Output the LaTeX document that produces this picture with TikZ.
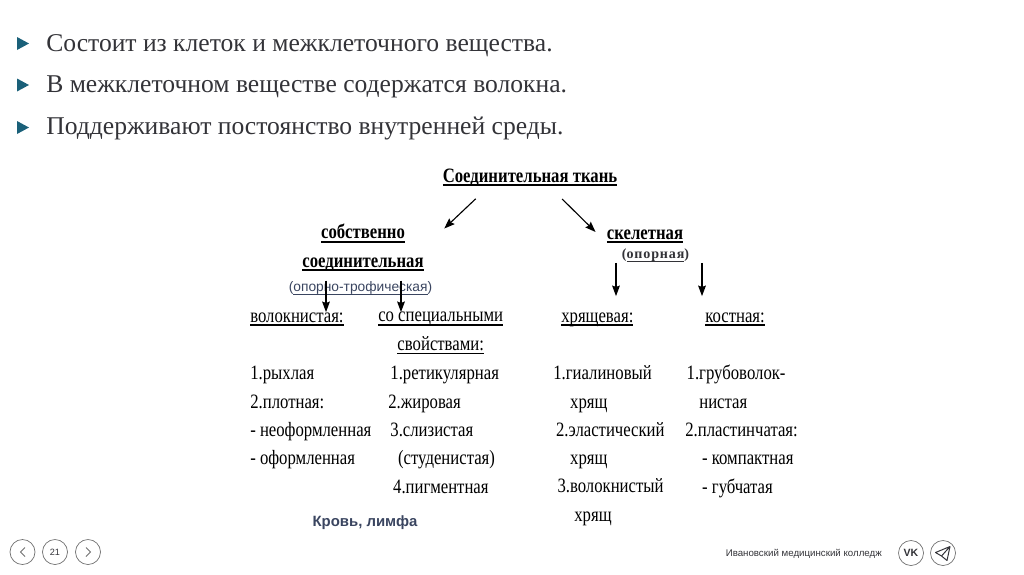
\documentclass[tikz,border=0pt]{standalone}
\usepackage{fontspec}
\setmainfont{Liberation Serif}
\setsansfont{Liberation Sans}
\newfontfamily\narrowserif[FakeStretch=0.82]{Liberation Serif}
\usetikzlibrary{arrows.meta}
\definecolor{tealbul}{HTML}{1A6079}
\definecolor{slidetext}{HTML}{333338}
\definecolor{navytext}{HTML}{3A4560}
\definecolor{ringgray}{HTML}{707070}
\newcommand{\lined}[2][0.9pt]{\setbox0=\hbox{#2}\rlap{\rule[-2.6pt]{\wd0}{#1}}\box0}
\tikzset{
  bullettext/.style={anchor=base west, inner sep=0pt, text=slidetext, font=\fontsize{18.2}{22}\selectfont},
  headtext/.style={anchor=base, inner sep=0pt, align=center, font=\narrowserif\bfseries\fontsize{14.5}{20.3}\selectfont},
  subtext/.style={anchor=base west, inner sep=0pt, align=left, font=\narrowserif\fontsize{14.5}{20.3}\selectfont},
  listtext/.style={anchor=base west, inner sep=0pt, align=left, font=\narrowserif\fontsize{14.5}{20.1}\selectfont},
  ring/.style={draw=ringgray, circle, minimum size=0.625cm, inner sep=0pt, line width=0.5pt, text=slidetext},
  arr/.style={-{Stealth[length=7.5pt,width=5.5pt,inset=1pt]}, line width=0.8pt}
}
\begin{document}
\begin{tikzpicture}[x=0.025cm,y=-0.025cm]
\useasboundingbox (0,0) rectangle (1024,574);
\foreach \yb in {43.5,85,127.5}
  \fill[tealbul] (17,\yb-6.5) -- (29,\yb) -- (17,\yb+6.5) -- cycle;
\node[bullettext] (line1) at (46,51.5) {Состоит из клеток и межклеточного вещества.};
\node[bullettext] (line2) at (46,92.5) {В межклеточном веществе содержатся волокна.};
\node[bullettext] (line3) at (46,134.5) {Поддерживают постоянство внутренней среды.};

\node[headtext] (title) at (530,182) {\lined[1.3pt]{Соединительная ткань}};
\node[headtext] (own) at (363,267.5) {\lined[1.3pt]{собственно}\\\lined[1.3pt]{соединительная}};
\node[headtext] (skel) at (645,239) {\lined[1.3pt]{скелетная}};
\node[anchor=base, inner sep=0pt, text=navytext, font=\sffamily\fontsize{9.8}{11}\selectfont] (optr) at (360.5,291) {(\lined[0.5pt]{опорно-трофическая})};
\node[anchor=base, inner sep=0pt, text=slidetext, font=\bfseries\fontsize{10}{11}\selectfont\addfontfeature{LetterSpace=6}] (opor) at (655.5,258) {(\lined[0.5pt]{опорная})};

\node[subtext] (volok) at (250,322) {\lined{волокнистая:}};
\node[subtext, align=center] (spec) at (378,350.5) {\lined{со специальными}\\\lined{свойствами:}};
\node[subtext] (hrya) at (561,322) {\lined{хрящевая:}};
\node[subtext] (bone) at (705,322) {\lined{костная:}};

\node[listtext] (list1) at (250,464.7) {1.рыхлая\\2.плотная:\\- неоформленная\\- оформленная};
\node[listtext] (list2) at (388,493) {\hspace*{1.5pt}1.ретикулярная\\2.жировая\\\hspace*{1.5pt}3.слизистая\\\hspace*{7pt}(студенистая)\\\hspace*{3.5pt}4.пигментная};
\node[listtext] (list3) at (553,521.2) {1.гиалиновый\\\hspace*{12pt}хрящ\\\hspace*{2pt}2.эластический\\\hspace*{12pt}хрящ\\\hspace*{3pt}3.волокнистый\\\hspace*{15pt}хрящ};
\node[listtext] (list4) at (685,493) {\hspace*{1pt}1.грубоволок-\\\hspace*{10pt}нистая\\2.пластинчатая:\\\hspace*{12pt}- компактная\\\hspace*{12pt}- губчатая};

\node[anchor=base, inner sep=0pt, text=navytext, font=\sffamily\bfseries\fontsize{10.6}{12}\selectfont] (blood) at (365,526) {Кровь, лимфа};

\coordinate (tl) at (485,190);
\coordinate (tr) at (553,190);
\coordinate (a1) at (326,300);
\coordinate (a2) at (401,300);
\coordinate (a3) at (616,300);
\coordinate (a4) at (702,300);
\draw[arr, shorten <=0.32cm, shorten >=0.7cm] (tl) -- (own.east);
\draw[arr, shorten <=0.32cm, shorten >=0.39cm] (tr) -- (skel.south west);
\draw[arr] (optr.north -| a1) -- (volok.north -| a1);
\draw[arr] (optr.north -| a2) -- (spec.north -| a2);
\draw[arr, shorten <=0.5cm, shorten >=0.4cm] (skel.south -| a3) -- (hrya.north -| a3);
\draw[arr, shorten <=0.5cm, shorten >=0.4cm] (skel.south -| a4) -- (bone.north -| a4);

\node[ring] (prev) at (22.5,552) {};
\node[ring, font=\sffamily\fontsize{6.5}{8}\selectfont] (page) at (55,552) {21};
\node[ring] (next) at (88,552) {};
\draw[ringgray, line width=0.6pt] (25,547.5) -- (20.5,552) -- (25,556.5);
\draw[ringgray, line width=0.6pt] (86,547.5) -- (90.5,552) -- (86,556.5);
\node[anchor=base east, inner sep=0pt, text=slidetext, font=\sffamily\fontsize{6.9}{8}\selectfont] (college) at (882,556) {Ивановский медицинский колледж};
\node[ring, font=\sffamily\bfseries\fontsize{7.5}{9}\selectfont] (vk) at (911,553) {VK};
\node[ring] (tg) at (943,553) {};
\draw[slidetext, line width=0.7pt, line join=round] (935.5,552.5) -- (950,546.5) -- (947,560.5) -- (941.5,556) -- cycle (941.5,556) -- (950,546.5);
\end{tikzpicture}
\end{document}
